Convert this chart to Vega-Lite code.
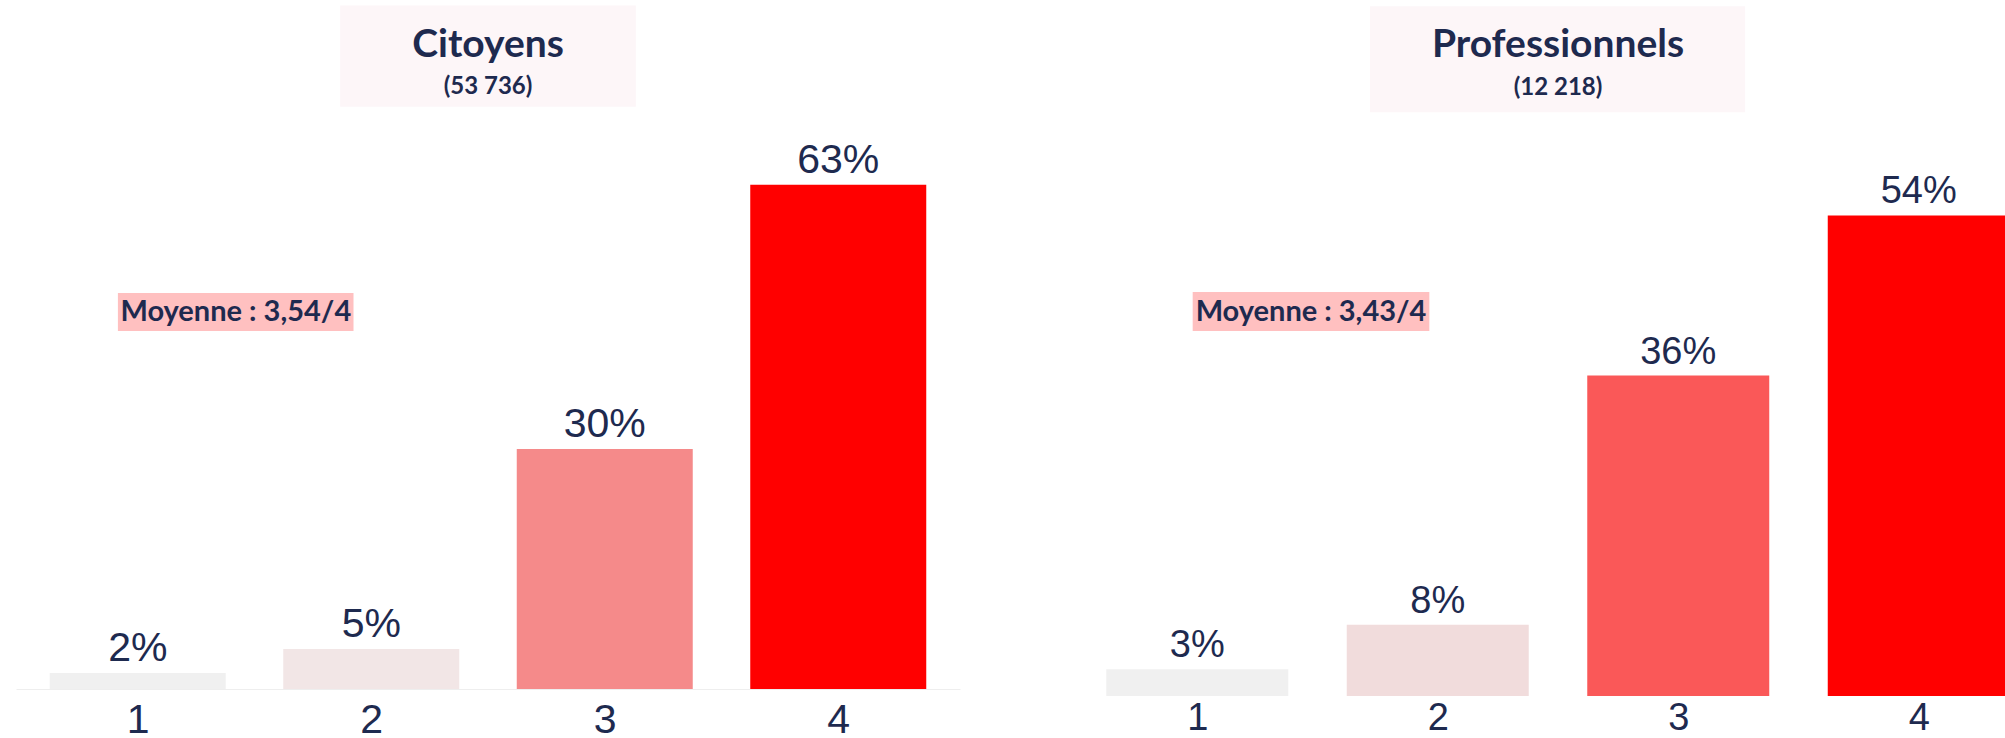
{
  "$schema": "https://vega.github.io/schema/vega-lite/v6.json",
  "padding": {"left": 16, "top": 0, "right": 0, "bottom": 0},
  "spacing": 112,
  "background": "white",
  "config": {"view": {"stroke": null}},
  "resolve": {"scale": {"x": "independent", "y": "independent", "color": "independent"}},
  "hconcat": [
    {
      "width": 944,
      "height": 689,
      "layer": [
        {
          "data": {"values": [{"title": "Citoyens", "n": "(53 736)", "mean": "Moyenne : 3,54/4"}]},
          "layer": [
            {"mark": {"type": "rect", "color": "#fdf6f8"},
             "encoding": {"x": {"datum": 1.867, "type": "quantitative"}, "x2": {"datum": 3.133}, "y": {"datum": 85.4, "type": "quantitative"}, "y2": {"datum": 72.75}}},
            {"mark": {"type": "text", "font": "Lato", "fontWeight": "bold", "fontSize": 39, "color": "#1e2a4f", "baseline": "alphabetic", "align": "center"},
             "encoding": {"x": {"datum": 2.5, "type": "quantitative"}, "y": {"datum": 79, "type": "quantitative"}, "text": {"field": "title"}}},
            {"mark": {"type": "text", "font": "Lato", "fontWeight": "bold", "fontSize": 24, "color": "#1e2a4f", "baseline": "alphabetic", "align": "center"},
             "encoding": {"x": {"datum": 2.5, "type": "quantitative"}, "y": {"datum": 74.4, "type": "quantitative"}, "text": {"field": "n"}}},
            {"mark": {"type": "rect", "color": "#ffc0c0"},
             "encoding": {"x": {"datum": 0.915, "type": "quantitative"}, "x2": {"datum": 1.924}, "y": {"datum": 49.5, "type": "quantitative"}, "y2": {"datum": 44.75}}},
            {"mark": {"type": "text", "font": "Lato", "fontWeight": "bold", "fontSize": 29, "color": "#1e2a4f", "baseline": "middle", "align": "center"},
             "encoding": {"x": {"datum": 1.42, "type": "quantitative"}, "y": {"datum": 47.1, "type": "quantitative"}, "text": {"field": "mean"}}}
          ]
        },
        {
          "data": {"values": [
            {"score": 1, "pct": 2, "label": "2%"},
            {"score": 2, "pct": 5, "label": "5%"},
            {"score": 3, "pct": 30, "label": "30%"},
            {"score": 4, "pct": 63, "label": "63%"}
          ]},
          "layer": [
            {"mark": {"type": "bar", "width": 176},
             "encoding": {
               "x": {"field": "score", "type": "quantitative", "scale": {"domain": [0.5, 4.5], "nice": false, "zero": false},
                     "axis": {"values": [1, 2, 3, 4], "format": "d", "title": null, "grid": false, "ticks": false, "domainColor": "#eeeeee", "labelFont": "Liberation Sans", "labelFontSize": 41, "labelColor": "#1e2a4f", "labelPadding": 11, "labelFlush": false}},
               "y": {"field": "pct", "type": "quantitative", "scale": {"domain": [0, 86.1], "nice": false}, "axis": null},
               "color": {"field": "score", "type": "ordinal", "scale": {"domain": [1, 2, 3, 4], "range": ["#f0f0f0", "#f2e6e6", "#f58a8a", "#ff0000"]}, "legend": null}
             }},
            {"mark": {"type": "text", "font": "Liberation Sans", "fontSize": 41, "color": "#1e2a4f", "dy": -12, "baseline": "alphabetic", "align": "center"},
             "encoding": {
               "x": {"field": "score", "type": "quantitative"},
               "y": {"field": "pct", "type": "quantitative"},
               "text": {"field": "label"}
             }}
          ]
        }
      ]
    },
    {
      "width": 972,
      "height": 696,
      "layer": [
        {
          "data": {"values": [{"title": "Professionnels", "n": "(12 218)", "mean": "Moyenne : 3,43/4"}]},
          "layer": [
            {"mark": {"type": "rect", "color": "#fdf6f8"},
             "encoding": {"x": {"datum": 1.718, "type": "quantitative"}, "x2": {"datum": 3.278}, "y": {"datum": 77.5, "type": "quantitative"}, "y2": {"datum": 65.6}}},
            {"mark": {"type": "text", "font": "Lato", "fontWeight": "bold", "fontSize": 39, "color": "#1e2a4f", "baseline": "alphabetic", "align": "center"},
             "encoding": {"x": {"datum": 2.5, "type": "quantitative"}, "y": {"datum": 71.8, "type": "quantitative"}, "text": {"field": "title"}}},
            {"mark": {"type": "text", "font": "Lato", "fontWeight": "bold", "fontSize": 24, "color": "#1e2a4f", "baseline": "alphabetic", "align": "center"},
             "encoding": {"x": {"datum": 2.5, "type": "quantitative"}, "y": {"datum": 67.5, "type": "quantitative"}, "text": {"field": "n"}}},
            {"mark": {"type": "rect", "color": "#ffc0c0"},
             "encoding": {"x": {"datum": 0.981, "type": "quantitative"}, "x2": {"datum": 1.965}, "y": {"datum": 45.4, "type": "quantitative"}, "y2": {"datum": 41.0}}},
            {"mark": {"type": "text", "font": "Lato", "fontWeight": "bold", "fontSize": 29, "color": "#1e2a4f", "baseline": "middle", "align": "center"},
             "encoding": {"x": {"datum": 1.473, "type": "quantitative"}, "y": {"datum": 43.2, "type": "quantitative"}, "text": {"field": "mean"}}}
          ]
        },
        {
          "data": {"values": [
            {"score": 1, "pct": 3, "label": "3%"},
            {"score": 2, "pct": 8, "label": "8%"},
            {"score": 3, "pct": 36, "label": "36%"},
            {"score": 4, "pct": 54, "label": "54%"}
          ]},
          "layer": [
            {"mark": {"type": "bar", "width": 182},
             "encoding": {
               "x": {"field": "score", "type": "quantitative", "scale": {"domain": [0.5, 4.5], "nice": false, "zero": false},
                     "axis": {"values": [1, 2, 3, 4], "format": "d", "title": null, "grid": false, "ticks": false, "domain": false, "labelFont": "Liberation Sans", "labelFontSize": 38, "labelColor": "#1e2a4f", "labelPadding": 3, "labelFlush": false}},
               "y": {"field": "pct", "type": "quantitative", "scale": {"domain": [0, 78.2], "nice": false}, "axis": null},
               "color": {"field": "score", "type": "ordinal", "scale": {"domain": [1, 2, 3, 4], "range": ["#f0f0f0", "#f1dcdc", "#fa5858", "#ff0000"]}, "legend": null}
             }},
            {"mark": {"type": "text", "font": "Liberation Sans", "fontSize": 38, "color": "#1e2a4f", "dy": -12, "baseline": "alphabetic", "align": "center"},
             "encoding": {
               "x": {"field": "score", "type": "quantitative"},
               "y": {"field": "pct", "type": "quantitative"},
               "text": {"field": "label"}
             }}
          ]
        }
      ]
    }
  ]
}
